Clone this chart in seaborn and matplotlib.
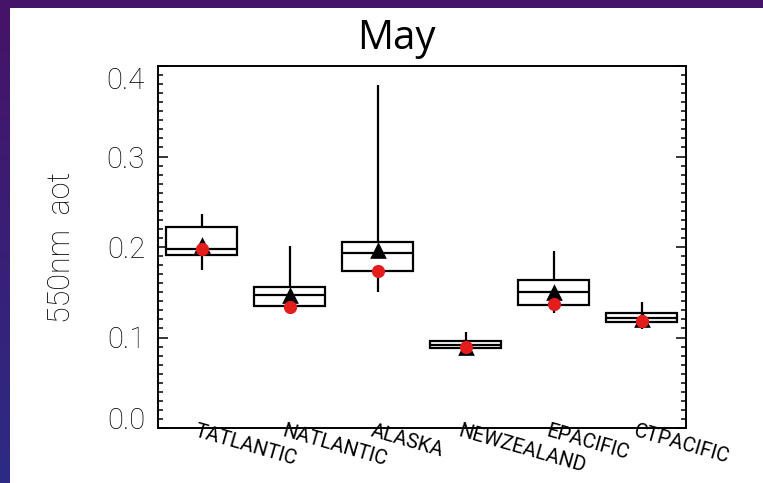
import numpy as np
import pandas as pd
import matplotlib
matplotlib.use("Agg")
import matplotlib.pyplot as plt
import matplotlib.transforms as mtransforms
from matplotlib.patches import Rectangle
from matplotlib.ticker import MultipleLocator
import seaborn as sns

# Monthly 550 nm aerosol optical thickness by region (May)
regions = ["TATLANTIC", "NATLANTIC", "ALASKA", "NEWZEALAND", "EPACIFIC", "CTPACIFIC"]
whisker_low = [0.175, 0.128, 0.150, 0.085, 0.127, 0.109]
quartile_1 = [0.191, 0.135, 0.173, 0.088, 0.136, 0.117]
median_aot = [0.198, 0.147, 0.193, 0.092, 0.150, 0.1215]
quartile_3 = [0.222, 0.156, 0.206, 0.0956, 0.164, 0.127]
whisker_high = [0.2365, 0.2007, 0.3795, 0.106, 0.196, 0.139]
mean_aot = [0.202, 0.1465, 0.1965, 0.090, 0.1505, 0.1207]
ref_aot = [0.198, 0.1336, 0.174, 0.0897, 0.1365, 0.1185]
yticks = [0.0, 0.1, 0.2, 0.3, 0.4]
ytick_labels = ["0.0", "0.1", "0.2", "0.3", "0.4"]

# five-number summaries as a long table for the box plot
rows = []
for i, r in enumerate(regions):
    for v in (whisker_low[i], quartile_1[i], median_aot[i], quartile_3[i], whisker_high[i]):
        rows.append({"region": r, "aot": v})
df = pd.DataFrame(rows)

sns.set_style("white")

W, H = 763, 483
fig = plt.figure(figsize=(W / 100, H / 100), dpi=100)

# slide-style purple backdrop with a white panel
bg = fig.add_axes([0, 0, 1, 1], zorder=-10)
grad = np.linspace(0, 1, 256)[:, None]
top_c = np.array([0x46, 0x13, 0x68]) / 255
bot_c = np.array([0x2d, 0x2b, 0x84]) / 255
img = top_c[None, None, :] * (1 - grad[:, :, None]) + bot_c[None, None, :] * grad[:, :, None]
bg.imshow(np.repeat(img, 4, axis=1), aspect="auto", extent=[0, 1, 0, 1], origin="upper")
bg.set_axis_off()
fig.patches.append(Rectangle((10 / W, 0), (W - 10) / W, (H - 8) / H,
                             transform=fig.transFigure, facecolor="white",
                             edgecolor="none", zorder=-5))

ax = fig.add_axes([157.5 / W, (H - 428) / H, 528 / W, 362 / H])
ax.set_facecolor("white")

sns.boxplot(data=df, x="region", y="aot", order=regions, whis=np.inf, width=0.8,
            color="white", linecolor="black", linewidth=1.6, showcaps=False,
            saturation=1, ax=ax)
sns.stripplot(x=regions, y=mean_aot, order=regions, jitter=False, marker="^",
              size=12, color="black", linewidth=0, ax=ax, zorder=5)
sns.stripplot(x=regions, y=ref_aot, order=regions, jitter=False, marker="o",
              size=9.5, color="#e31c1c", linewidth=0, ax=ax, zorder=6)

ax.set_xlim(-0.5, 5.5)
ax.set_ylim(0, 0.4)
ax.set_xlabel("")

for s in ax.spines.values():
    s.set_visible(True)
    s.set_linewidth(1.4)
    s.set_color("black")

light = dict(family=["Roboto", "DejaVu Sans"], weight="light")

ax.set_yticks(yticks, ytick_labels)
ax.yaxis.set_minor_locator(MultipleLocator(0.01))
ax.tick_params(axis="y", which="both", direction="in", left=True, right=True,
               width=1.1, color="black", pad=9)
ax.tick_params(axis="y", which="major", length=7.5)
ax.tick_params(axis="y", which="minor", length=3.6)
for lab in ax.get_yticklabels():
    lab.set_fontsize(21)
    lab.set_fontfamily(light["family"])
    lab.set_fontweight("light")
    lab.set_color("black")

ax.set_xticks(range(len(regions)), regions)
ax.tick_params(axis="x", length=0, pad=0)
for lab in ax.get_xticklabels():
    lab.set_fontsize(14.5)
    lab.set_fontfamily(["Roboto", "DejaVu Sans"])
    lab.set_color("black")
    lab.set_rotation(-16)
    lab.set_ha("left")
    lab.set_va("top")
    lab.set_rotation_mode("anchor")
    lab.set_transform(lab.get_transform() +
                      mtransforms.ScaledTranslation(-0.04, 0.06, fig.dpi_scale_trans))

# keep the end labels inside the axis span
ylabs = ax.get_yticklabels()
ylabs[0].set_transform(ylabs[0].get_transform() +
                       mtransforms.ScaledTranslation(0, 0.10, fig.dpi_scale_trans))
ylabs[-1].set_transform(ylabs[-1].get_transform() +
                        mtransforms.ScaledTranslation(0, -0.12, fig.dpi_scale_trans))

ax.set_ylabel("550nm  aot", fontsize=22, family=light["family"], weight="light",
              color="black")
ax.yaxis.set_label_coords((62 - 157.5) / 528, 0.5)
ax.yaxis.label.set_va("center")

fig.text(396 / W, (H - 49.3) / H, "May", ha="center", va="baseline",
         fontsize=29, family=["Open Sans", "DejaVu Sans"], color="black")

fig.savefig("out.png", dpi=100)
